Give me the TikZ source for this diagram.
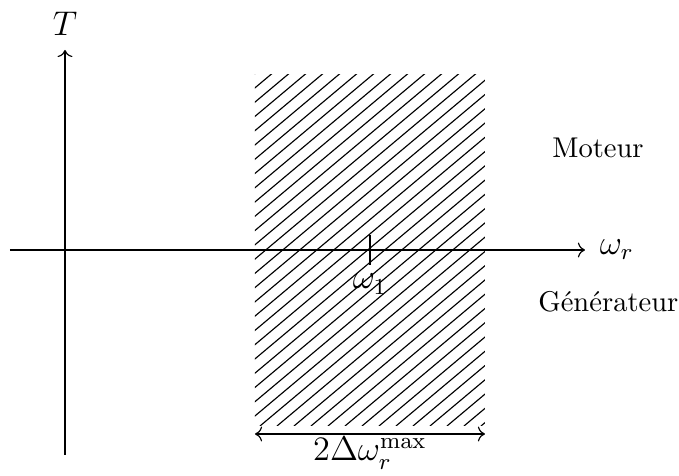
\documentclass[tikz,border=0pt]{standalone}
\usepackage{amsmath}
\usetikzlibrary{arrows.meta, positioning}

\begin{document}
\begin{tikzpicture}[x=0.35pt, y=0.35pt,
axis/.style={->, thin},
hatch/.style={thin},
label/.style={inner sep=2pt, font=\large}
]
\useasboundingbox (0,0) rectangle (679,476);
% Define the axes end points
\coordinate (origin) at (65,226);
\coordinate (tbot) at (65,21);
\coordinate (ttop) at (65,426);
\coordinate (wleft) at (10,226);
\coordinate (wright) at (585,226);
\draw[axis] (wleft) -- (wright);
\draw[axis] (tbot) -- (ttop);
\node[label, above=3pt of ttop] (tlabel) {$T$};
\node[label, right=3pt of wright] (wlabel) {$\omega_r$};
% Hatched band around omega_1
\coordinate (bandsw) at (255,50);
\coordinate (bandne) at (485,401);
\begin{scope}
\clip (bandsw) rectangle (bandne);
\foreach \o in {-420,-403,...,240}
  \draw[hatch] (255+\o,50) -- ++(40:560);
\end{scope}
% Tick and label for omega_1
\coordinate (tickbot) at (370,211);
\coordinate (ticktop) at (370,241);
\draw (tickbot) -- (ticktop);
\node[label, below=1pt of tickbot] (w1) {$\omega_1$};
% Width of the band
\coordinate (widthl) at (255,42);
\coordinate (widthr) at (485,42);
\coordinate (widthm) at (370,42);
\draw[<->] (widthl) -- (widthr);
\node[label, inner sep=1pt, below=0pt of widthm] (width) {$2\Delta\omega_r^{\max}$};
% Regions
\node (moteur) at (598,328) {Moteur};
\node[anchor=east, inner sep=0pt] (gen) at (679,174) {Générateur};
\end{tikzpicture}
\end{document}
